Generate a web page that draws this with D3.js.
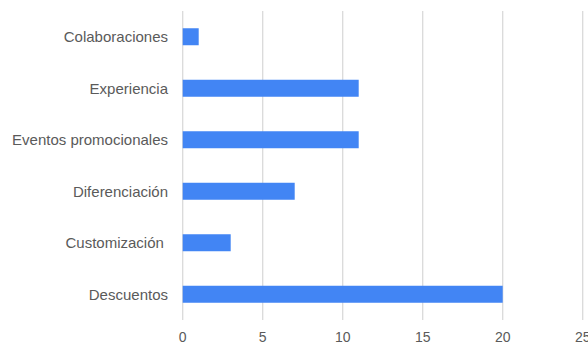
<!DOCTYPE html>
<html><head><meta charset="utf-8">
<script src="https://cdn.jsdelivr.net/npm/d3@7"></script>
<style>html,body{margin:0;padding:0;background:#fff;overflow:hidden}</style>
</head><body>
<svg id="c" width="588" height="344"></svg>
<script>
const categories = ["Colaboraciones","Experiencia","Eventos promocionales","Diferenciación","Customización ","Descuentos"];
const values = [1, 11, 11, 7, 3, 20];
const xTicks = [0, 5, 10, 15, 20, 25];

const svg = d3.select("#c");
const x = d3.scaleLinear().domain([0, 25]).range([182.7, 582.7]);
const y = d3.scaleBand().domain(categories).range([11, 320]).paddingInner(0.67).paddingOuter(0.335);

svg.append("g").selectAll("line").data(xTicks).join("line")
  .attr("x1", d => x(d)).attr("x2", d => x(d))
  .attr("y1", 11).attr("y2", 320)
  .attr("stroke", "#dadada").attr("stroke-width", 1.3);

svg.append("g").selectAll("rect").data(values).join("rect")
  .attr("x", x(0)).attr("y", (d, i) => y(categories[i]))
  .attr("width", d => x(d) - x(0)).attr("height", y.bandwidth())
  .attr("fill", "#4285f4");

svg.append("g").selectAll("text").data(categories).join("text")
  .attr("x", 168).attr("y", d => y(d) + y.bandwidth() / 2)
  .attr("text-anchor", "end").attr("dominant-baseline", "central")
  .style("white-space", "pre")
  .attr("font-family", "Liberation Sans, Arial, sans-serif").attr("font-size", 15)
  .attr("fill", "#5a5a5a").text(d => d);

svg.append("g").selectAll("text").data(xTicks).join("text")
  .attr("x", d => x(d)).attr("y", 336.5)
  .attr("text-anchor", "middle").attr("dominant-baseline", "central")
  .attr("font-family", "Liberation Sans, Arial, sans-serif").attr("font-size", 14)
  .attr("fill", "#5a5a5a").text(d => d);
</script>
</body></html>
